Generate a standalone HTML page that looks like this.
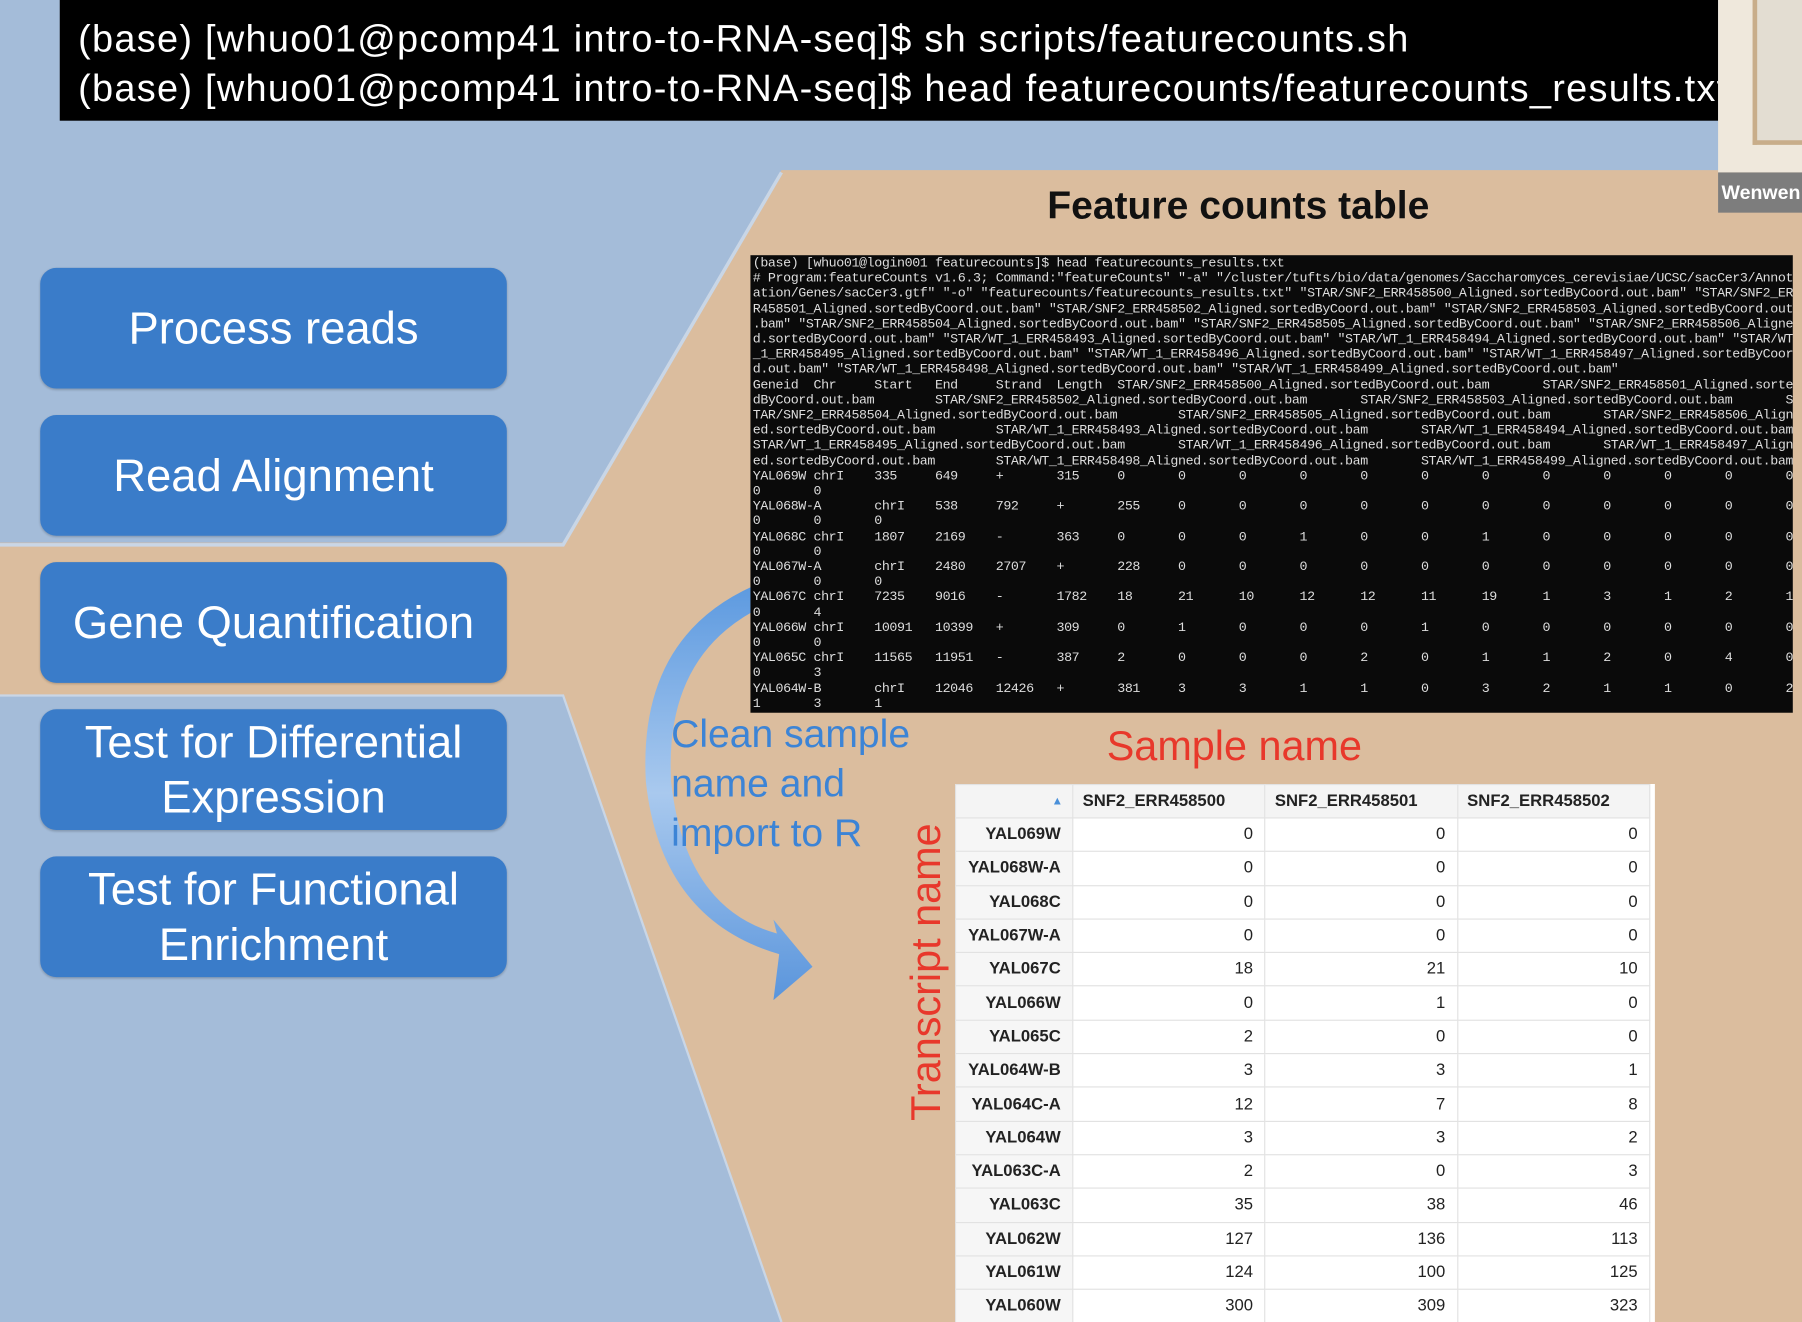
<!DOCTYPE html>
<html><head><meta charset="utf-8"><style>
html,body{margin:0;padding:0;width:1802px;height:1322px;overflow:hidden;background:#a4bcd9}
#s{position:absolute;left:0;top:0;width:1568px;height:1150px;transform:scale(1.14923,1.14957);transform-origin:0 0;font-family:"Liberation Sans",sans-serif}
.a{position:absolute}
.btn{position:absolute;left:35px;width:406px;height:105px;background:#3a7cc9;border-radius:14px;color:#fff;font-size:39.5px;display:flex;align-items:center;justify-content:center;text-align:center;line-height:48px;box-shadow:0 1px 2px rgba(0,0,0,.2)}
pre{margin:0;font-family:"Liberation Mono",monospace}
table{border-collapse:collapse;font-size:14.5px;font-family:"Liberation Sans",sans-serif;color:#222}
td{height:28.3px;border:1px solid #e2e2e2;padding:0 10px;text-align:right;background:#fff}
td:first-child{font-weight:bold;background:#f6f6f6}
th{height:28px;font-weight:bold;text-align:left;padding:0 8px;background:#f4f4f4;border:1px solid #e2e2e2}
</style></head><body><div id="s">
<svg class="a" style="left:0;top:0" width="1568" height="1150">
<polygon points="680,148 1568,148 1568,1150 680,1150 490,605 0,605 0,472 490,472" fill="#dbbd9e"/>
<polyline points="0,474 490,474 680,150" fill="none" stroke="#c9d6e6" stroke-width="3"/>
<polyline points="0,605 490,605 680,1150" fill="none" stroke="#c9d6e6" stroke-width="2"/>
<defs><linearGradient id="g" x1="0" y1="0" x2="0" y2="1"><stop offset="0" stop-color="#5d9ae0"/><stop offset="0.5" stop-color="#a9c9ee"/><stop offset="1" stop-color="#5a95dc"/></linearGradient></defs>
<path d="M655,510 Q555,555 562,680 Q575,800 678,830 L673,870 L707,841 L673,800 L676,812 Q596,790 584,680 Q578,575 655,532 Z" fill="url(#g)"/>
</svg>
<div class="a" style="left:52px;top:0;width:1443px;height:105px;background:#000;color:#fff;font-size:33px;letter-spacing:1.1px;line-height:43px;padding-top:12px;box-sizing:border-box;white-space:nowrap;overflow:hidden">
<div style="padding-left:16px">(base) [whuo01@pcomp41 intro-to-RNA-seq]$ sh scripts/featurecounts.sh</div>
<div style="padding-left:16px">(base) [whuo01@pcomp41 intro-to-RNA-seq]$ head featurecounts/featurecounts_results.txt</div></div>
<div class="a" style="left:1495px;top:0;width:73px;height:150px;background:#efe8dc"><div class="a" style="left:30px;top:0;width:43px;height:122px;border-left:4px solid #c8ad8a;border-bottom:4px solid #c8ad8a;background:#e3ddd2"></div></div>
<div class="a" style="left:1495px;top:150px;width:73px;height:35px;background:#7d7d7d;color:#fff;font-weight:bold;font-size:17px;line-height:35px;padding-left:3px;overflow:hidden;white-space:nowrap">Wenwen</div>
<div class="a" style="left:880px;top:160px;width:395px;text-align:center;font-size:34px;font-weight:bold;color:#111">Feature counts table</div>
<div class="a" style="left:653px;top:222px;width:907px;height:398px;background:#0a0a0a;overflow:hidden">
<pre style="color:#ddd;font-size:11.6px;line-height:13.2px;padding:1px 0 0 2px;letter-spacing:-0.35px">(base) [whuo01@login001 featurecounts]$ head featurecounts_results.txt
# Program:featureCounts v1.6.3; Command:"featureCounts" "-a" "/cluster/tufts/bio/data/genomes/Saccharomyces_cerevisiae/UCSC/sacCer3/Annot
ation/Genes/sacCer3.gtf" "-o" "featurecounts/featurecounts_results.txt" "STAR/SNF2_ERR458500_Aligned.sortedByCoord.out.bam" "STAR/SNF2_ER
R458501_Aligned.sortedByCoord.out.bam" "STAR/SNF2_ERR458502_Aligned.sortedByCoord.out.bam" "STAR/SNF2_ERR458503_Aligned.sortedByCoord.out
.bam" "STAR/SNF2_ERR458504_Aligned.sortedByCoord.out.bam" "STAR/SNF2_ERR458505_Aligned.sortedByCoord.out.bam" "STAR/SNF2_ERR458506_Aligne
d.sortedByCoord.out.bam" "STAR/WT_1_ERR458493_Aligned.sortedByCoord.out.bam" "STAR/WT_1_ERR458494_Aligned.sortedByCoord.out.bam" "STAR/WT
_1_ERR458495_Aligned.sortedByCoord.out.bam" "STAR/WT_1_ERR458496_Aligned.sortedByCoord.out.bam" "STAR/WT_1_ERR458497_Aligned.sortedByCoor
d.out.bam" "STAR/WT_1_ERR458498_Aligned.sortedByCoord.out.bam" "STAR/WT_1_ERR458499_Aligned.sortedByCoord.out.bam"
Geneid  Chr     Start   End     Strand  Length  STAR/SNF2_ERR458500_Aligned.sortedByCoord.out.bam       STAR/SNF2_ERR458501_Aligned.sorte
dByCoord.out.bam        STAR/SNF2_ERR458502_Aligned.sortedByCoord.out.bam       STAR/SNF2_ERR458503_Aligned.sortedByCoord.out.bam       S
TAR/SNF2_ERR458504_Aligned.sortedByCoord.out.bam        STAR/SNF2_ERR458505_Aligned.sortedByCoord.out.bam       STAR/SNF2_ERR458506_Align
ed.sortedByCoord.out.bam        STAR/WT_1_ERR458493_Aligned.sortedByCoord.out.bam       STAR/WT_1_ERR458494_Aligned.sortedByCoord.out.bam
STAR/WT_1_ERR458495_Aligned.sortedByCoord.out.bam       STAR/WT_1_ERR458496_Aligned.sortedByCoord.out.bam       STAR/WT_1_ERR458497_Align
ed.sortedByCoord.out.bam        STAR/WT_1_ERR458498_Aligned.sortedByCoord.out.bam       STAR/WT_1_ERR458499_Aligned.sortedByCoord.out.bam
YAL069W chrI    335     649     +       315     0       0       0       0       0       0       0       0       0       0       0       0
0       0
YAL068W-A       chrI    538     792     +       255     0       0       0       0       0       0       0       0       0       0       0
0       0       0
YAL068C chrI    1807    2169    -       363     0       0       0       1       0       0       1       0       0       0       0       0
0       0
YAL067W-A       chrI    2480    2707    +       228     0       0       0       0       0       0       0       0       0       0       0
0       0       0
YAL067C chrI    7235    9016    -       1782    18      21      10      12      12      11      19      1       3       1       2       1
0       4
YAL066W chrI    10091   10399   +       309     0       1       0       0       0       1       0       0       0       0       0       0
0       0
YAL065C chrI    11565   11951   -       387     2       0       0       0       2       0       1       1       2       0       4       0
0       3
YAL064W-B       chrI    12046   12426   +       381     3       3       1       1       0       3       2       1       1       0       2
1       3       1</pre></div>
<div class="btn" style="top:233px">Process reads</div>
<div class="btn" style="top:361px">Read Alignment</div>
<div class="btn" style="top:489px">Gene Quantification</div>
<div class="btn" style="top:617px">Test for Differential<br>Expression</div>
<div class="btn" style="top:745px">Test for Functional<br>Enrichment</div>
<div class="a" style="left:584px;top:618px;color:#3c84d6;font-size:34px;line-height:43px">Clean sample<br>name and<br>import to R</div>
<div class="a" style="left:963px;top:628px;color:#e8382b;font-size:36px">Sample name</div>
<div class="a" style="left:785px;top:975px;color:#e8382b;font-size:36px;transform:rotate(-90deg);transform-origin:0 0;white-space:nowrap">Transcript name</div>
<div class="a" style="left:831px;top:682px;width:609px;height:468px;background:#fff;overflow:hidden">
<table style="width:605px">
<tr><th style="width:85px;text-align:right;color:#4a90d9;font-size:10px">▲</th><th>SNF2_ERR458500</th><th>SNF2_ERR458501</th><th>SNF2_ERR458502</th></tr>
<tr><td>YAL069W</td><td>0</td><td>0</td><td>0</td></tr>
<tr><td>YAL068W-A</td><td>0</td><td>0</td><td>0</td></tr>
<tr><td>YAL068C</td><td>0</td><td>0</td><td>0</td></tr>
<tr><td>YAL067W-A</td><td>0</td><td>0</td><td>0</td></tr>
<tr><td>YAL067C</td><td>18</td><td>21</td><td>10</td></tr>
<tr><td>YAL066W</td><td>0</td><td>1</td><td>0</td></tr>
<tr><td>YAL065C</td><td>2</td><td>0</td><td>0</td></tr>
<tr><td>YAL064W-B</td><td>3</td><td>3</td><td>1</td></tr>
<tr><td>YAL064C-A</td><td>12</td><td>7</td><td>8</td></tr>
<tr><td>YAL064W</td><td>3</td><td>3</td><td>2</td></tr>
<tr><td>YAL063C-A</td><td>2</td><td>0</td><td>3</td></tr>
<tr><td>YAL063C</td><td>35</td><td>38</td><td>46</td></tr>
<tr><td>YAL062W</td><td>127</td><td>136</td><td>113</td></tr>
<tr><td>YAL061W</td><td>124</td><td>100</td><td>125</td></tr>
<tr><td>YAL060W</td><td>300</td><td>309</td><td>323</td></tr>
</table></div>
</div></body></html>
